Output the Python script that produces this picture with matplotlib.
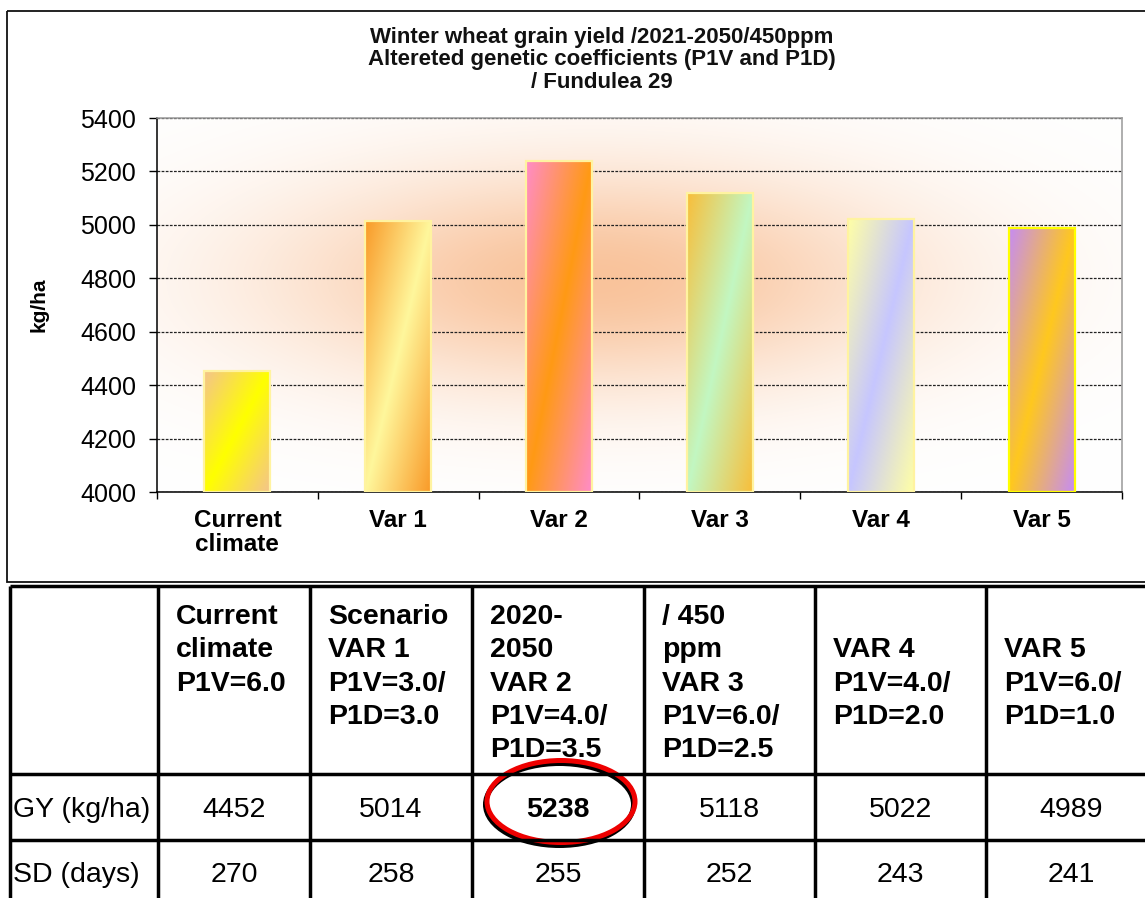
import numpy as np
import matplotlib.pyplot as plt
from matplotlib.colors import to_rgb
from matplotlib.patches import Rectangle, Ellipse

plt.rcParams['font.family'] = ['Liberation Sans', 'DejaVu Sans']

# Grain yield (kg/ha) for each scenario
categories = ['Current\nclimate', 'Var 1', 'Var 2', 'Var 3', 'Var 4', 'Var 5']
yields = [4452, 5014, 5238, 5118, 5022, 4989]
# Sowing-to-maturity duration (days)
sd_days = [270, 258, 255, 252, 243, 241]

# (corner colour, diagonal colour) of every bar gradient
bar_colors = [('#F4C48C', '#FFFF00'), ('#F99A28', '#FFF79C'),
              ('#FF8CC8', '#FF9A14'), ('#F8BE3A', '#C2F7C2'),
              ('#FFFFA6', '#C6C6FF'), ('#C68CF4', '#FFC81E')]
edge_colors = ['#FFF3A0', '#FFF3A0', '#FFF3A0', '#FFF3A0', '#FFF3A0', '#FFFF00']

title_lines = ['Winter wheat grain yield /2021-2050/450ppm',
               'Altereted genetic coefficients (P1V and P1D)',
               '/ Fundulea 29']

header_cells = [['Current', 'climate', 'P1V=6.0'],
                ['Scenario', 'VAR 1', 'P1V=3.0/', 'P1D=3.0'],
                ['2020-', '2050', 'VAR 2', 'P1V=4.0/', 'P1D=3.5'],
                ['/ 450', 'ppm', 'VAR 3', 'P1V=6.0/', 'P1D=2.5'],
                ['VAR 4', 'P1V=4.0/', 'P1D=2.0'],
                ['VAR 5', 'P1V=6.0/', 'P1D=1.0']]
header_first_line = [0, 0, 0, 0, 1, 1]
row_labels = ['GY (kg/ha)', 'SD (days)']
best = int(np.argmax(yields))

W, H = 1145, 898
fig = plt.figure(figsize=(W / 100, H / 100), dpi=100)

# ---- bar chart ----
left, right, top, bottom = 157, 1122, 118, 492
ax = fig.add_axes([left / W, 1 - bottom / H, (right - left) / W, (bottom - top) / H])

# soft peach glow behind the bars
gx, gy = np.meshgrid(np.linspace(0, 1, 400), np.linspace(0, 1, 300))
glow = np.exp(-(((gx - 0.45) / 0.33) ** 2 + ((gy - 0.57) / 0.3) ** 2))
peach = np.array(to_rgb('#F9C39B'))
bg = 1 - (1 - peach) * glow[..., None]
ax.imshow(bg, extent=(0, 1, 0, 1), transform=ax.transAxes, origin='lower',
          aspect='auto', zorder=0, interpolation='bilinear')

x = np.arange(len(categories))
base = 4000
bars = ax.bar(x, np.array(yields) - base, bottom=base, width=0.41,
              facecolor='none', zorder=3)

u, v = np.meshgrid(np.linspace(0, 1, 80), np.linspace(0, 1, 240))
s = 1 - np.abs(u + v - 1)
for rect, (c0, c1), ec in zip(bars, bar_colors, edge_colors):
    c0, c1 = np.array(to_rgb(c0)), np.array(to_rgb(c1))
    img = c0 + (c1 - c0) * s[..., None]
    x0, y0 = rect.get_x(), rect.get_y()
    im = ax.imshow(img, extent=(x0, x0 + rect.get_width(), y0, y0 + rect.get_height()),
                   origin='upper', aspect='auto', zorder=2, interpolation='bilinear')
    im.set_clip_path(rect)
    rect.set_edgecolor(ec)
    rect.set_linewidth(1.6)

ax.set_xlim(-0.5, len(categories) - 0.5)
ax.set_ylim(4000, 5400)
ax.set_yticks(np.arange(4000, 5401, 200))
ax.yaxis.grid(True, linestyle=(0, (2.2, 1.1)), color='#222222', linewidth=0.9)
ax.set_axisbelow(True)

ax.set_xticks(x)
ax.set_xticklabels(categories, fontsize=17.5, fontweight='bold', linespacing=1.1)
ax.set_xticks(np.arange(-0.5, len(categories), 1), minor=True)
ax.tick_params(axis='x', which='major', length=0, pad=12)
ax.tick_params(axis='x', which='minor', length=5, width=1, direction='out')
ax.tick_params(axis='y', length=6, width=1, direction='out', labelsize=18, pad=9)

for side in ['left', 'bottom']:
    ax.spines[side].set_color('black')
    ax.spines[side].set_linewidth(1.1)
for side in ['top', 'right']:
    ax.spines[side].set_color('#999999')
    ax.spines[side].set_linewidth(1.1)

ax.set_ylabel('kg/ha', fontsize=15, fontweight='bold')
ax.yaxis.set_label_coords((49 - left) / (right - left), 0.5)

# ---- overlay in pixel units: frame, title, table ----
ov = fig.add_axes([0, 0, 1, 1])
ov.set_xlim(0, W)
ov.set_ylim(H, 0)
ov.axis('off')

ov.add_patch(Rectangle((7, 11), 1160, 571, fill=False, edgecolor='#111111', linewidth=1.3))

for i, line in enumerate(title_lines):
    ov.text(602, 42.5 + 22.7 * i, line, ha='center', va='baseline',
            fontsize=16, fontweight='bold', color='#111111')

col_edges = [10, 158, 310, 472, 644, 815, 986, 1156]
row_edges = [585.5, 773.5, 840]
lw_tab = 2.5
for yy in row_edges:
    ov.plot([col_edges[0], W + 20], [yy, yy], color='black', lw=lw_tab, solid_capstyle='butt')
for xx in col_edges[:-1]:
    ov.plot([xx, xx], [row_edges[0], H + 5], color='black', lw=lw_tab, solid_capstyle='butt')

fs = 20.5
step = 33.3
for j, cell in enumerate(header_cells):
    tx = col_edges[j + 1] + 18
    for k, line in enumerate(cell):
        ov.text(tx, 624 + step * (header_first_line[j] + k), line, ha='left',
                va='baseline', fontsize=fs, fontweight='bold')

ov.text(13, 817, row_labels[0], ha='left', va='baseline', fontsize=fs)
ov.text(13, 882, row_labels[1], ha='left', va='baseline', fontsize=fs)
for j in range(len(yields)):
    cx = (col_edges[j + 1] + col_edges[j + 2]) / 2
    ov.text(cx, 817, str(yields[j]), ha='center', va='baseline', fontsize=fs,
            fontweight='bold' if j == best else 'normal')
    ov.text(cx, 882, str(sd_days[j]), ha='center', va='baseline', fontsize=fs)

# highlight the best yield
cx = (col_edges[best + 1] + col_edges[best + 2]) / 2 + 3
ov.add_patch(Ellipse((cx - 1.5, 804.5), 148, 82, fill=False, edgecolor='black', linewidth=3.6))
ov.add_patch(Ellipse((cx, 801.5), 148, 82, fill=False, edgecolor='#EE0000', linewidth=3.6))

fig.savefig('out.png', dpi=100)
